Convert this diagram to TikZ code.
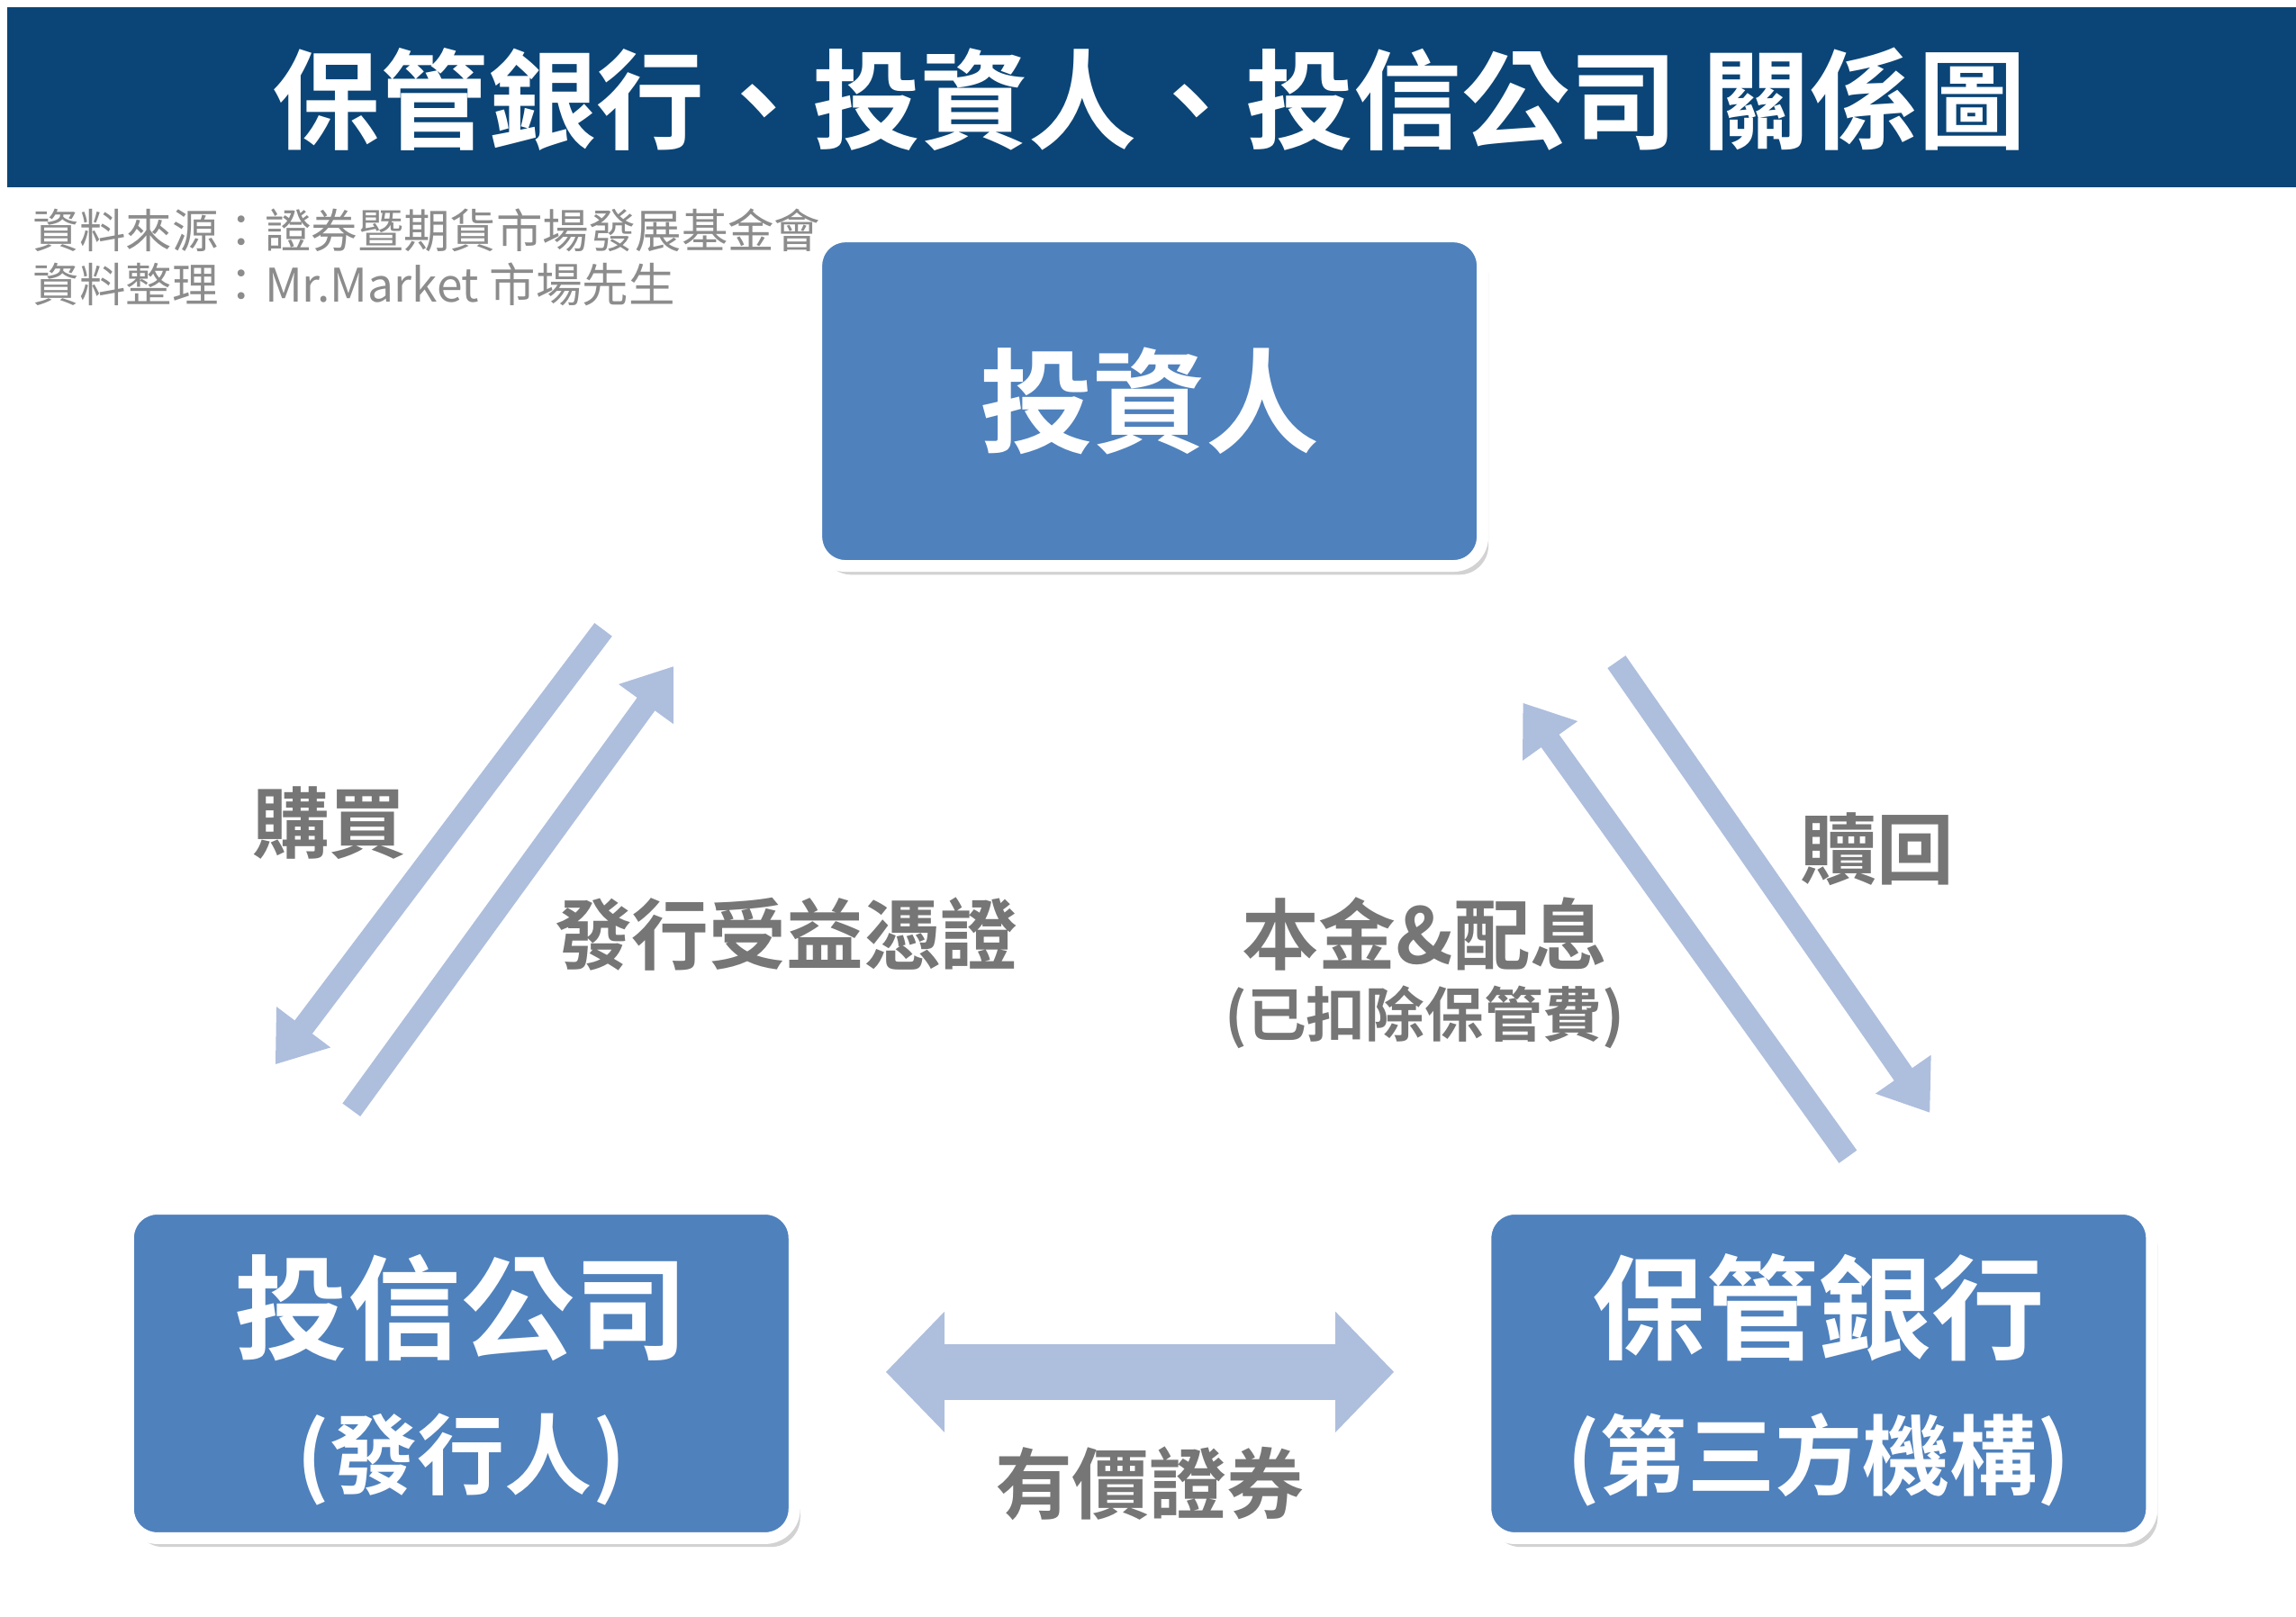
\documentclass[tikz,border=0pt]{standalone}
\usepackage{fontspec}
\setmainfont{Noto Sans CJK TC}
\newfontfamily\cjkb{Noto Sans CJK TC Bold}
\usetikzlibrary{arrows.meta,shadows}
\definecolor{titleblue}{HTML}{0B4577}
\definecolor{boxblue}{HTML}{4F81BD}
\definecolor{arrowblue}{HTML}{AEBEDD}
\definecolor{labelgrey}{HTML}{767676}
\definecolor{srcgrey}{HTML}{8C8C8C}
\tikzset{
	partybox/.style={draw=white, line width=0.8mm, fill=boxblue, rounded corners=2mm,
		drop shadow={opacity=0.35, shadow xshift=0.4mm, shadow yshift=-0.6mm},
		minimum width=45.5mm, minimum height=22.5mm},
	flowarrow/.style={draw=arrowblue, line width=1.5mm, -{Triangle[length=3.2mm, width=4.4mm]}},
	flowlabel/.style={text=labelgrey, font=\cjkb\fontsize{15}{17}\selectfont},
	boxtext/.style={text=white, font=\cjkb\fontsize{22}{24}\selectfont}
}
\begin{document}
\begin{tikzpicture}[x=0.1mm, y=-0.1mm]
	\useasboundingbox (0,0) rectangle (1568,1104);
	\fill[white] (0,0) rectangle (1568,1104);

	% title bar
	\fill[titleblue] (5,5) rectangle (1568,128);
	\node[text=white, font=\cjkb\fontsize{21}{24}\selectfont] (title) at (785,68)
		{保管銀行、投資人、投信公司 關係圖};
	\node[text=srcgrey, font=\fontsize{9}{10.5}\selectfont, anchor=north west, align=left, inner sep=0]
		(source) at (22,142) {資料來源：證券暨期貨市場發展基金會\\資料整理：Mr.Market 市場先生};

	% parties
	\node[partybox] (investor) at (785,274) {};
	\node[boxtext] at (investor) {投資人};
	\node[partybox] (fund) at (315,938) {};
	\node[boxtext] (fundname) at (315,893) {投信公司};
	\node[boxtext, font=\cjkb\fontsize{17}{20}\selectfont] (fundrole) at (315,997) {(發行人)};
	\node[partybox] (bank) at (1242,938) {};
	\node[boxtext] (bankname) at (1242,893) {保管銀行};
	\node[boxtext, font=\cjkb\fontsize{17}{20}\selectfont] (bankrole) at (1242,997) {(第三方機構)};

	% arrow ends
	\coordinate (buyA) at (412,430);
	\coordinate (buyB) at (188,727);
	\coordinate (issueA) at (240,758);
	\coordinate (issueB) at (460,455);
	\coordinate (payA) at (1262,790);
	\coordinate (payB) at (1040,480);
	\coordinate (redA) at (1104,452);
	\coordinate (redB) at (1318,760);
	\coordinate (secA) at (605,937);
	\coordinate (secB) at (952,937);

	\draw[flowarrow] (buyA) -- (buyB);
	\draw[flowarrow] (issueA) -- (issueB);
	\draw[flowarrow] (payA) -- (payB);
	\draw[flowarrow] (redA) -- (redB);
	\draw[draw=arrowblue, line width=3.8mm, {Triangle[length=4mm, width=8mm]}-{Triangle[length=4mm, width=8mm]}] (secA) -- (secB);

	% labels
	\node[flowlabel] (buy) at (225,562) {購買};
	\node[flowlabel] (issue) at (537,638) {發行受益憑證};
	\node[flowlabel] (pay) at (973,638) {本金\&配息};
	\node[flowlabel, font=\cjkb\fontsize{11.5}{13}\selectfont] (fee) at (973,695) {(已扣除保管費)};
	\node[flowlabel] (redeem) at (1282,580) {贖回};
	\node[flowlabel] (securities) at (785,1013) {有價證券};
\end{tikzpicture}
\end{document}
